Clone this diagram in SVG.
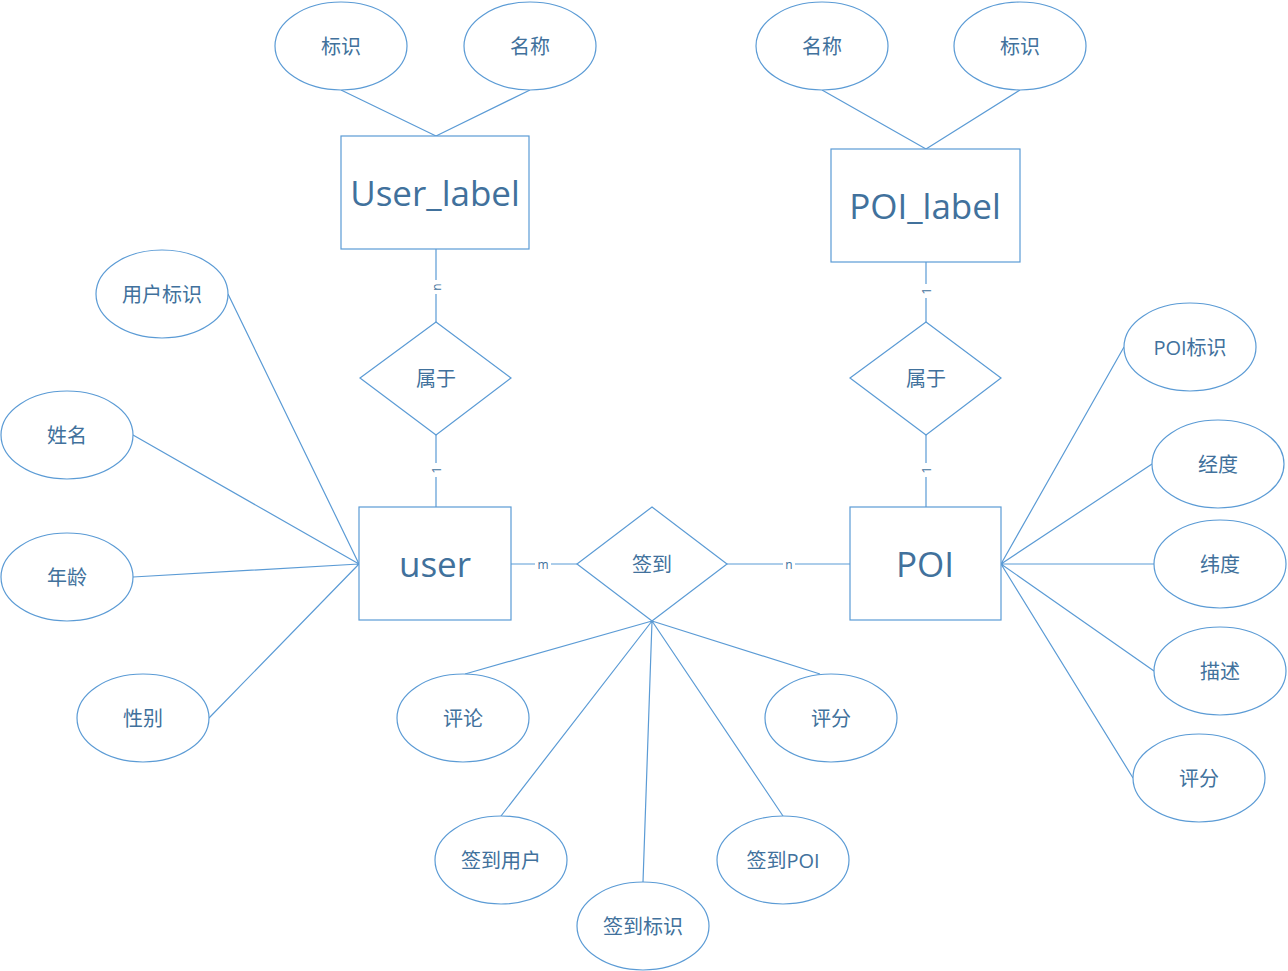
<svg xmlns="http://www.w3.org/2000/svg" width="1288" height="971" viewBox="0 0 1288 971">
<style>
.s{fill:#fff;stroke:#5B9BD5;stroke-width:1.2}
.l{stroke:#5B9BD5;stroke-width:1.2;fill:none}
.t{font-family:"Open Sans","Noto Sans CJK SC",sans-serif;font-size:20px;fill:#41719C;text-anchor:middle;dominant-baseline:central}
.b{font-size:35px}
.c{font-family:"Open Sans",sans-serif;font-size:12px;fill:#41719C;text-anchor:middle;dominant-baseline:central}
.bg{fill:#fff}
</style>
<rect width="1288" height="971" fill="#fff"/>
<g id="connectors">
<path class="l" d="M341 90L436 136M530 90L436 136M822 90L926 149M1020 90L926 149"/>
<path class="l" d="M436 249V322M436 435V507M926 262V322M926 435V507M511 564H577M727 564H850"/>
<path class="l" d="M228 294L359 564M133 435L359 564M133 577L359 564M209 718L359 564"/>
<path class="l" d="M652 621L465 674M652 621L820 674M652 621L501 816M652 621L643 882M652 621L783 816"/>
<path class="l" d="M1001 564L1124 347M1001 564L1152 464M1001 564L1154 564M1001 564L1154 671M1001 564L1133 778"/>
<rect class="bg" x="430" y="280" width="12" height="14"/>
<text class="c" transform="translate(436 287) rotate(-90)">n</text>
<rect class="bg" x="430" y="463" width="12" height="14"/>
<text class="c" transform="translate(436 470) rotate(-90)">1</text>
<rect class="bg" x="920" y="284" width="12" height="14"/>
<text class="c" transform="translate(926 291) rotate(-90)">1</text>
<rect class="bg" x="920" y="463" width="12" height="14"/>
<text class="c" transform="translate(926 470) rotate(-90)">1</text>
<rect class="bg" x="535" y="558" width="16" height="12"/>
<text class="c" x="543" y="564">m</text>
<rect class="bg" x="783" y="558" width="12" height="12"/>
<text class="c" x="789" y="564">n</text>
</g>
<g id="ul_id"><ellipse class="s" cx="341" cy="46" rx="66" ry="44"/><text class="t" x="341" y="46">标识</text></g>
<g id="ul_name"><ellipse class="s" cx="530" cy="46" rx="66" ry="44"/><text class="t" x="530" y="46">名称</text></g>
<g id="pl_name"><ellipse class="s" cx="822" cy="46" rx="66" ry="44"/><text class="t" x="822" y="46">名称</text></g>
<g id="pl_id"><ellipse class="s" cx="1020" cy="46" rx="66" ry="44"/><text class="t" x="1020" y="46">标识</text></g>
<g id="User_label"><rect class="s" x="341" y="136" width="188" height="113"/><text class="t b" x="435" y="192">User_label</text></g>
<g id="POI_label"><rect class="s" x="831" y="149" width="189" height="113"/><text class="t b" x="925" y="205">POI_label</text></g>
<g id="belong1"><polygon class="s" points="436,322 511,378 436,435 360,378"/><text class="t" x="436" y="378">属于</text></g>
<g id="belong2"><polygon class="s" points="926,322 1001,378 926,435 850,378"/><text class="t" x="926" y="378">属于</text></g>
<g id="user"><rect class="s" x="359" y="507" width="152" height="113"/><text class="t b" x="435" y="563">user</text></g>
<g id="POI"><rect class="s" x="850" y="507" width="151" height="113"/><text class="t b" x="925" y="563">POI</text></g>
<g id="checkin"><polygon class="s" points="652,507 727,564 652,621 577,564"/><text class="t" x="652" y="564">签到</text></g>
<g id="u_id"><ellipse class="s" cx="162" cy="294" rx="66" ry="44"/><text class="t" x="162" y="294">用户标识</text></g>
<g id="u_name"><ellipse class="s" cx="67" cy="435" rx="66" ry="44"/><text class="t" x="67" y="435">姓名</text></g>
<g id="u_age"><ellipse class="s" cx="67" cy="577" rx="66" ry="44"/><text class="t" x="67" y="577">年龄</text></g>
<g id="u_sex"><ellipse class="s" cx="143" cy="718" rx="66" ry="44"/><text class="t" x="143" y="718">性别</text></g>
<g id="c_comment"><ellipse class="s" cx="463" cy="718" rx="66" ry="44"/><text class="t" x="463" y="718">评论</text></g>
<g id="c_score"><ellipse class="s" cx="831" cy="718" rx="66" ry="44"/><text class="t" x="831" y="718">评分</text></g>
<g id="c_user"><ellipse class="s" cx="501" cy="860" rx="66" ry="44"/><text class="t" x="501" y="860">签到用户</text></g>
<g id="c_id"><ellipse class="s" cx="643" cy="926" rx="66" ry="44"/><text class="t" x="643" y="926">签到标识</text></g>
<g id="c_poi"><ellipse class="s" cx="783" cy="860" rx="66" ry="44"/><text class="t" x="783" y="860">签到POI</text></g>
<g id="p_id"><ellipse class="s" cx="1190" cy="347" rx="66" ry="44"/><text class="t" x="1190" y="347">POI标识</text></g>
<g id="p_lng"><ellipse class="s" cx="1218" cy="464" rx="66" ry="44"/><text class="t" x="1218" y="464">经度</text></g>
<g id="p_lat"><ellipse class="s" cx="1220" cy="564" rx="66" ry="44"/><text class="t" x="1220" y="564">纬度</text></g>
<g id="p_desc"><ellipse class="s" cx="1220" cy="671" rx="66" ry="44"/><text class="t" x="1220" y="671">描述</text></g>
<g id="p_score"><ellipse class="s" cx="1199" cy="778" rx="66" ry="44"/><text class="t" x="1199" y="778">评分</text></g>
</svg>
